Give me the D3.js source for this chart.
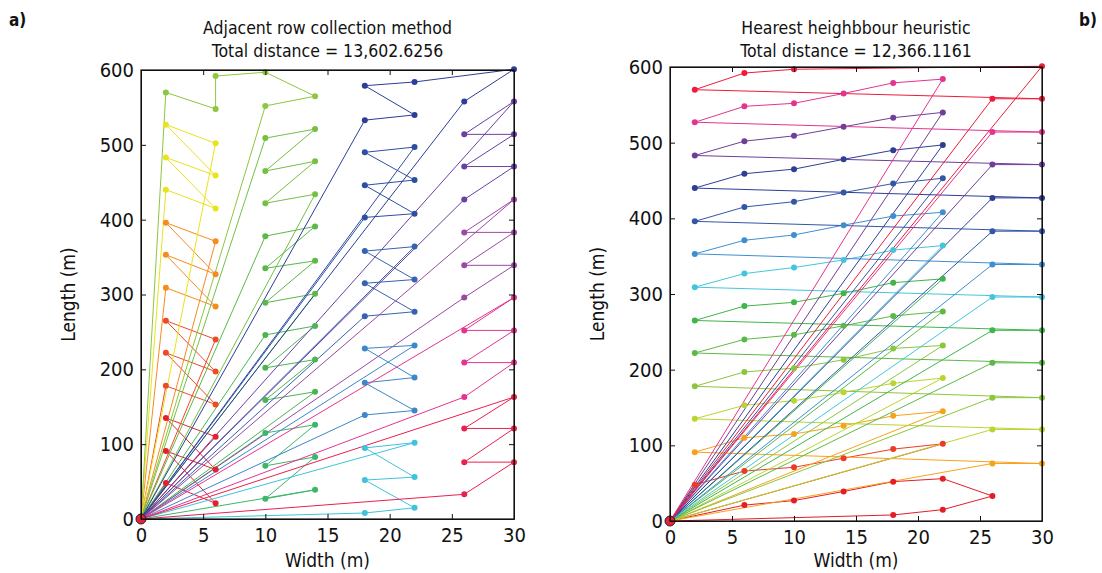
<!DOCTYPE html>
<html>
<head>
<meta charset="utf-8">
<script src="https://cdn.jsdelivr.net/npm/d3@7"></script>
<style>
  body { margin: 0; background: #fff; }
  svg text { font-family: "Liberation Sans Narrow", "Arial Narrow", "DejaVu Sans Condensed", sans-serif; fill: #111; }
</style>
</head>
<body>
<svg id="chart" width="1102" height="573"></svg>
<script>
// axis ticks
const xTicks = [0, 5, 10, 15, 20, 25, 30];
const yTicks = [0, 100, 200, 300, 400, 500, 600];

const titleA = ['Adjacent row collection method', 'Total distance = 13,602.6256'];
const titleB = ['Hearest heighbbour heuristic', 'Total distance = 12,366.1161'];

// a) adjacent row collection: one list of [width, length] stops per trip (start/end at origin)
const tripsA = [
  [[6, 110], [2, 135], [6, 66], [2, 91], [6, 21], [2, 48]],
  [[6, 240], [2, 265], [6, 197], [2, 222], [6, 153], [2, 178]],
  [[6, 371], [2, 396], [6, 327], [2, 353], [6, 284], [2, 309]],
  [[6, 502], [2, 527], [6, 459], [2, 483], [6, 415], [2, 440]],
  [[2, 570], [6, 548], [6, 592], [10, 597], [14, 565], [10, 552]],
  [[10, 509], [14, 521], [10, 465], [14, 478], [10, 422], [14, 434]],
  [[10, 378], [14, 391], [10, 335], [14, 345], [10, 289], [14, 301]],
  [[10, 246], [14, 258], [10, 202], [14, 213], [10, 159], [14, 170]],
  [[10, 115], [14, 126], [10, 71], [14, 83], [10, 27], [14, 39]],
  [[22, 102], [18, 95], [22, 56], [18, 52], [22, 15], [18, 8]],
  [[22, 232], [18, 228], [22, 189], [18, 182], [22, 145], [18, 139]],
  [[22, 364], [18, 358], [22, 320], [18, 315], [22, 277], [18, 271]],
  [[22, 497], [18, 490], [22, 453], [18, 446], [22, 408], [18, 403]],
  [[18, 533], [22, 540], [18, 579], [22, 584], [30, 601], [26, 558]],
  [[30, 558], [26, 514], [30, 514], [26, 471], [30, 471], [26, 427]],
  [[30, 427], [26, 383], [30, 383], [26, 339], [30, 339], [26, 296]],
  [[30, 296], [26, 252], [30, 252], [26, 209], [30, 209], [26, 163]],
  [[30, 163], [26, 121], [30, 121], [26, 76], [30, 76], [26, 33]]
];
const colorsA = ['#e5202e', '#ef4a26', '#f68b1f', '#e9e31c', '#8dc63f', '#74c043', '#5cb848', '#4cb550',
  '#3db66b', '#3fc3dc', '#3b87c9', '#3563b0', '#2e4ea2', '#2c3e96', '#6a40a0', '#9a4aa3', '#e5348f', '#eb1f4f'];

// b) nearest neighbour heuristic trips (stops in visiting order)
const tripsB = [
  [[6, 21], [10, 27], [14, 39], [18, 52], [22, 56], [26, 33], [22, 15], [18, 8]],
  [[2, 48], [6, 66], [10, 71], [14, 83], [18, 95], [22, 102]],
  [[26, 76], [30, 76], [2, 91], [6, 110], [10, 115], [14, 126], [18, 139], [22, 145]],
  [[26, 121], [30, 121], [2, 135], [6, 153], [10, 159], [14, 170], [18, 182], [22, 189]],
  [[26, 163], [30, 163], [2, 178], [6, 197], [10, 202], [14, 213], [18, 228], [22, 232]],
  [[26, 209], [30, 209], [2, 222], [6, 240], [10, 246], [14, 258], [18, 271], [22, 277]],
  [[26, 252], [30, 252], [2, 265], [6, 284], [10, 289], [14, 301], [18, 315], [22, 320]],
  [[26, 296], [30, 296], [2, 309], [6, 327], [10, 335], [14, 345], [18, 358], [22, 364]],
  [[26, 339], [30, 339], [2, 353], [6, 371], [10, 378], [14, 391], [18, 403], [22, 408]],
  [[26, 383], [30, 383], [2, 396], [6, 415], [10, 422], [14, 434], [18, 446], [22, 453]],
  [[26, 427], [30, 427], [2, 440], [6, 459], [10, 465], [14, 478], [18, 490], [22, 497]],
  [[26, 471], [30, 471], [2, 483], [6, 502], [10, 509], [14, 521], [18, 533], [22, 540]],
  [[26, 514], [30, 514], [2, 527], [6, 548], [10, 552], [14, 565], [18, 579], [22, 584]],
  [[26, 558], [30, 558], [2, 570], [6, 592], [10, 597], [30, 601]]
];
const colorsB = ['#e31e26', '#ee3a25', '#f7a21b', '#b9d532', '#8cc63f', '#5db947', '#3fb54a', '#45c5dc',
  '#3f8fd0', '#3356a7', '#2d3e95', '#6f3f98', '#e2358f', '#ec1c3a'];

const svg = d3.select('#chart');

function drawPanel(p) {
  const x = d3.scaleLinear().domain([0, 30]).range([p.left, p.right]);
  const y = d3.scaleLinear().domain([0, 600]).range([p.bottom, p.top]);
  const g = svg.append('g');

  const line = d3.line()
    .x(d => x(d[0]))
    .y(d => y(d[1]));

  // routes: origin -> stops -> origin
  p.trips.forEach((trip, i) => {
    g.append('path')
      .datum([[0, 0], ...trip, [0, 0]])
      .attr('d', line)
      .attr('fill', 'none')
      .attr('stroke', p.colors[i])
      .attr('stroke-width', 1);
  });

  p.trips.forEach((trip, i) => {
    g.selectAll(null)
      .data(trip)
      .enter().append('circle')
      .attr('cx', d => x(d[0]))
      .attr('cy', d => y(d[1]))
      .attr('r', 3)
      .attr('fill', p.colors[i]);
  });

  // depot
  g.append('circle')
    .attr('cx', x(0)).attr('cy', y(0)).attr('r', 5)
    .attr('fill', '#e8203a').attr('stroke', '#222').attr('stroke-width', 1);

  // axes with inward ticks, mirrored on top/right
  const fmt = d3.format('d');
  g.append('g')
    .attr('transform', `translate(0,${p.bottom})`)
    .call(d3.axisBottom(x).tickValues(xTicks).tickFormat(fmt).tickSizeInner(-5).tickSizeOuter(0).tickPadding(9));
  g.append('g')
    .attr('transform', `translate(${p.left},0)`)
    .call(d3.axisLeft(y).tickValues(yTicks).tickFormat(fmt).tickSizeInner(-5).tickSizeOuter(0).tickPadding(7));
  g.append('g')
    .attr('transform', `translate(0,${p.top})`)
    .call(d3.axisTop(x).tickValues(xTicks).tickFormat('').tickSizeInner(-5).tickSizeOuter(0));
  g.append('g')
    .attr('transform', `translate(${p.right},0)`)
    .call(d3.axisRight(y).tickValues(yTicks).tickFormat('').tickSizeInner(-5).tickSizeOuter(0));

  g.selectAll('.tick text').attr('font-size', 20).attr('font-family', null).style('fill', '#111');
  g.selectAll('.domain, .tick line').attr('stroke', '#111');

  g.append('rect')
    .attr('x', p.left).attr('y', p.top)
    .attr('width', p.right - p.left).attr('height', p.bottom - p.top)
    .attr('fill', 'none').attr('stroke', '#111').attr('stroke-width', 1.2);

  const cx = (p.left + p.right) / 2;
  g.append('text').attr('x', cx).attr('y', 34).attr('text-anchor', 'middle').attr('font-size', 17.5).text(p.title[0]);
  g.append('text').attr('x', cx).attr('y', 57).attr('text-anchor', 'middle').attr('font-size', 17.5).text(p.title[1]);
  g.append('text').attr('x', cx).attr('y', 567).attr('text-anchor', 'middle').attr('font-size', 19).text('Width (m)');
  g.append('text')
    .attr('transform', `translate(${p.left - 66},${(p.top + p.bottom) / 2}) rotate(-90)`)
    .attr('text-anchor', 'middle').attr('font-size', 19).text('Length (m)');
}

drawPanel({ left: 141, right: 514, top: 70, bottom: 519, trips: tripsA, colors: colorsA, title: titleA });
drawPanel({ left: 670, right: 1042, top: 67, bottom: 521, trips: tripsB, colors: colorsB, title: titleB });

svg.append('text').attr('x', 9).attr('y', 26).attr('font-size', 17).attr('font-weight', 'bold').text('a)');
svg.append('text').attr('x', 1079).attr('y', 26).attr('font-size', 17).attr('font-weight', 'bold').text('b)');
</script>
</body>
</html>
